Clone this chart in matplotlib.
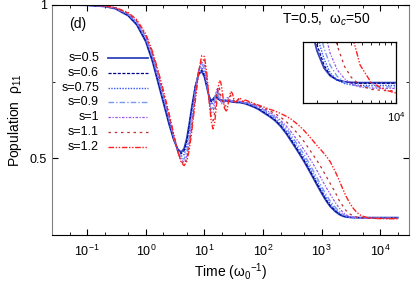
import matplotlib
matplotlib.use('Agg')
import matplotlib.pyplot as plt
from matplotlib.ticker import FixedLocator, NullFormatter, NullLocator

plt.rcParams['font.family'] = ['Liberation Sans', 'DejaVu Sans']
plt.rcParams['mathtext.fontset'] = 'custom'
plt.rcParams['mathtext.rm'] = 'Liberation Sans'
plt.rcParams['mathtext.it'] = 'Liberation Sans:italic'

# time grid (units of 1/omega_0)
t = [0.025, 0.05, 0.1, 0.2, 0.3, 0.5, 0.7,
     1.0, 1.3, 1.6, 2.0, 2.5, 3.0, 3.5, 4.0, 4.5, 5.0, 5.5, 6.0,
     7, 8, 9, 10, 11, 12, 13, 14, 15, 16, 17, 18, 19, 20,
     22, 24, 26, 28, 30, 33, 36, 40, 45, 50,
     60, 70, 85, 100, 130, 160, 200, 250, 300,
     400, 500, 600, 700, 850, 1000, 1200, 1400, 1700, 2000,
     2300, 2600, 3000, 3500, 4000, 4800, 6000, 8000, 10000, 13000, 20000]

# population rho_11 for each s
p_s05 = [1.000, 1.000, 0.999, 0.995, 0.988, 0.965, 0.935,
         0.880, 0.815, 0.750, 0.680, 0.610, 0.560, 0.530, 0.520, 0.532, 0.565, 0.612, 0.660,
         0.735, 0.775, 0.783, 0.765, 0.732, 0.702, 0.688, 0.693, 0.700, 0.698, 0.694, 0.691, 0.690, 0.689,
         0.688, 0.687, 0.686, 0.685, 0.684, 0.683, 0.682, 0.682, 0.680, 0.678,
         0.672, 0.667, 0.659, 0.650, 0.636, 0.623, 0.604, 0.580, 0.557,
         0.520, 0.490, 0.463, 0.440, 0.410, 0.386, 0.361, 0.343, 0.327, 0.317,
         0.3115, 0.3090, 0.3076, 0.3070, 0.3068, 0.3067, 0.3067, 0.3067, 0.3067, 0.3067, 0.3067]
p_s06 = [1.000, 1.000, 0.999, 0.995, 0.989, 0.966, 0.937,
         0.883, 0.818, 0.754, 0.684, 0.613, 0.561, 0.528, 0.515, 0.525, 0.557, 0.605, 0.655,
         0.735, 0.778, 0.788, 0.770, 0.733, 0.700, 0.684, 0.689, 0.701, 0.702, 0.696, 0.691, 0.690, 0.689,
         0.688, 0.687, 0.687, 0.686, 0.685, 0.684, 0.683, 0.683, 0.681, 0.679,
         0.674, 0.669, 0.661, 0.652, 0.638, 0.625, 0.607, 0.583, 0.561,
         0.524, 0.494, 0.467, 0.444, 0.414, 0.390, 0.364, 0.346, 0.329, 0.319,
         0.3125, 0.3092, 0.3076, 0.3069, 0.3066, 0.3065, 0.3065, 0.3065, 0.3065, 0.3065, 0.3065]
p_s075 = [1.000, 1.000, 0.999, 0.996, 0.989, 0.968, 0.940,
          0.888, 0.825, 0.762, 0.692, 0.620, 0.564, 0.526, 0.507, 0.512, 0.542, 0.590, 0.642,
          0.730, 0.785, 0.797, 0.780, 0.735, 0.695, 0.675, 0.682, 0.702, 0.710, 0.702, 0.692, 0.688, 0.690,
          0.689, 0.688, 0.688, 0.687, 0.686, 0.685, 0.684, 0.684, 0.682, 0.680,
          0.676, 0.671, 0.664, 0.655, 0.642, 0.629, 0.612, 0.589, 0.567,
          0.531, 0.502, 0.475, 0.452, 0.422, 0.397, 0.371, 0.352, 0.334, 0.322,
          0.3145, 0.3100, 0.3075, 0.3064, 0.3060, 0.3058, 0.3058, 0.3058, 0.3058, 0.3058, 0.3058]
p_s09 = [1.000, 1.000, 1.000, 0.996, 0.990, 0.970, 0.943,
         0.893, 0.832, 0.770, 0.700, 0.627, 0.568, 0.524, 0.500, 0.498, 0.522, 0.568, 0.620,
         0.720, 0.788, 0.808, 0.792, 0.745, 0.690, 0.660, 0.665, 0.695, 0.720, 0.716, 0.700, 0.685, 0.683,
         0.688, 0.692, 0.690, 0.688, 0.687, 0.686, 0.685, 0.685, 0.683, 0.681,
         0.677, 0.673, 0.667, 0.659, 0.646, 0.634, 0.618, 0.597, 0.576,
         0.541, 0.513, 0.487, 0.464, 0.434, 0.408, 0.381, 0.361, 0.341, 0.327,
         0.318, 0.3125, 0.3088, 0.3068, 0.3060, 0.3055, 0.3053, 0.3053, 0.3053, 0.3053, 0.3053]
p_s10 = [1.000, 1.000, 1.000, 0.996, 0.990, 0.971, 0.946,
         0.897, 0.837, 0.776, 0.706, 0.633, 0.571, 0.523, 0.495, 0.488, 0.508, 0.552, 0.603,
         0.710, 0.788, 0.815, 0.802, 0.755, 0.690, 0.648, 0.648, 0.682, 0.722, 0.728, 0.708, 0.685, 0.676,
         0.684, 0.698, 0.696, 0.689, 0.687, 0.687, 0.686, 0.686, 0.684, 0.683,
         0.679, 0.675, 0.669, 0.662, 0.650, 0.639, 0.624, 0.605, 0.587,
         0.555, 0.528, 0.505, 0.485, 0.457, 0.432, 0.405, 0.383, 0.357, 0.338,
         0.3245, 0.3165, 0.3110, 0.3080, 0.3063, 0.3053, 0.3049, 0.3048, 0.3048, 0.3048, 0.3048]
p_s11 = [1.000, 1.000, 1.000, 0.997, 0.991, 0.973, 0.949,
         0.901, 0.843, 0.783, 0.713, 0.639, 0.574, 0.522, 0.490, 0.481, 0.498, 0.540, 0.590,
         0.700, 0.787, 0.825, 0.818, 0.765, 0.690, 0.635, 0.622, 0.650, 0.700, 0.735, 0.730, 0.705, 0.690,
         0.670, 0.672, 0.695, 0.705, 0.697, 0.682, 0.688, 0.694, 0.685, 0.688,
         0.682, 0.677, 0.671, 0.665, 0.655, 0.646, 0.634, 0.619, 0.605,
         0.578, 0.555, 0.533, 0.514, 0.490, 0.468, 0.441, 0.418, 0.390, 0.362,
         0.345, 0.330, 0.319, 0.312, 0.3085, 0.3058, 0.3045, 0.3041, 0.3040, 0.3040, 0.3040]
p_s12 = [1.000, 1.000, 1.000, 0.997, 0.992, 0.975, 0.952,
         0.905, 0.848, 0.790, 0.720, 0.645, 0.578, 0.522, 0.487, 0.476, 0.490, 0.528, 0.578,
         0.690, 0.785, 0.835, 0.832, 0.775, 0.690, 0.622, 0.596, 0.618, 0.672, 0.728, 0.754, 0.748, 0.722,
         0.663, 0.652, 0.688, 0.718, 0.712, 0.680, 0.688, 0.698, 0.685, 0.690,
         0.684, 0.679, 0.673, 0.668, 0.660, 0.654, 0.646, 0.637, 0.628,
         0.609, 0.591, 0.574, 0.559, 0.540, 0.525, 0.507, 0.489, 0.458, 0.428,
         0.400, 0.377, 0.355, 0.336, 0.3235, 0.3125, 0.3068, 0.3043, 0.3033, 0.3030, 0.3029]

labels = ['s=0.5', 's=0.6', 's=0.75', 's=0.9', 's=1', 's=1.1', 's=1.2']
series = [p_s05, p_s06, p_s075, p_s09, p_s10, p_s11, p_s12]
colors = ['#3344bb', '#000088', '#3355ff', '#7799ee', '#9955ee', '#b83030', '#ff2020']
dashes = [(), (2.5, 1.2), (1, 1), (4, 1.5, 1, 1.5), (2, 1.2, 1, 1.2),
          (2, 3), (4, 1.2, 1, 1.2, 1, 1.2)]
widths = [1.3, 0.9, 1.0, 1.0, 0.9, 0.9, 1.0]

fig = plt.figure(figsize=(4.14, 2.84), dpi=100)
ax = fig.add_axes([0.1256, 0.1725, 0.8623, 0.810])

# draw back-to-front so blue stays on top like the original
for y, c, d, w in zip(series, colors, dashes, widths):
    ax.plot(t, y, color=c, lw=w, dashes=d)

ax.set_xscale('log')
ax.set_xlim(0.025, 3.1e4)
ax.set_ylim(0.25, 1.0)
ax.set_xticks([0.1, 1, 10, 100, 1000, 10000])
ax.xaxis.set_minor_locator(FixedLocator([0.05, 0.2, 0.5, 2, 5, 20, 50, 200, 500,
                                         2000, 5000, 20000]))
ax.xaxis.set_minor_formatter(NullFormatter())
ax.set_yticks([0.5, 1.0])
ax.set_yticklabels(['0.5', '1'])
ax.yaxis.set_minor_locator(FixedLocator([0.25, 0.75]))
ax.tick_params(which='both', direction='in', top=True, right=True, labelsize=9)
ax.tick_params(which='major', length=4, width=0.8)
ax.tick_params(which='minor', length=2.5, width=0.6)
ax.tick_params(axis='x', pad=6)
for side in ['left', 'right']:
    ax.spines[side].set_color('#808080')
for side in ['top', 'bottom']:
    ax.spines[side].set_color('black')

ax.set_xlabel('Time (ω$_0$$^{-1}$)', fontsize=10, labelpad=2)
ax.set_ylabel('Population  ρ$_{11}$', fontsize=10, labelpad=4)

ax.text(0.048, 0.917, '(d)', transform=ax.transAxes, fontsize=10, va='center')
ax.text(0.644, 0.935, 'T=0.5,  ω$_c$=50', transform=ax.transAxes, fontsize=10, va='center')

# hand-made legend: label right-aligned, sample line to the right
for i, (lab, c, d, w) in enumerate(zip(labels, colors, dashes, widths)):
    yy = 0.770 - i * 0.0645
    ax.text(0.132, yy, lab, transform=ax.transAxes, ha='right', va='center', fontsize=9)
    ax.plot([0.157, 0.269], [yy, yy], transform=ax.transAxes, color=c, lw=w, dashes=d)

# inset: zoom near the steady state
axi = fig.add_axes([0.732, 0.637, 0.2246, 0.2148])
for y, c, d, w in zip(series, colors, dashes, widths):
    axi.plot(t, y, color=c, lw=w, dashes=d)
axi.set_xscale('log')
axi.set_xlim(1500, 10000)
axi.set_ylim(0.300, 0.320)
axi.set_xticks([10000])
axi.xaxis.set_minor_locator(FixedLocator([2000, 3000, 4000, 5000, 6000, 7000, 8000, 9000]))
axi.xaxis.set_minor_formatter(NullFormatter())
axi.yaxis.set_major_locator(NullLocator())
axi.yaxis.set_minor_locator(NullLocator())
axi.tick_params(which='both', direction='in', top=True, labelsize=8)
axi.tick_params(which='minor', length=2, width=0.6)
axi.tick_params(axis='x', pad=5)
for sp in axi.spines.values():
    sp.set_linewidth(0.9)

fig.savefig('out.png', dpi=100)
